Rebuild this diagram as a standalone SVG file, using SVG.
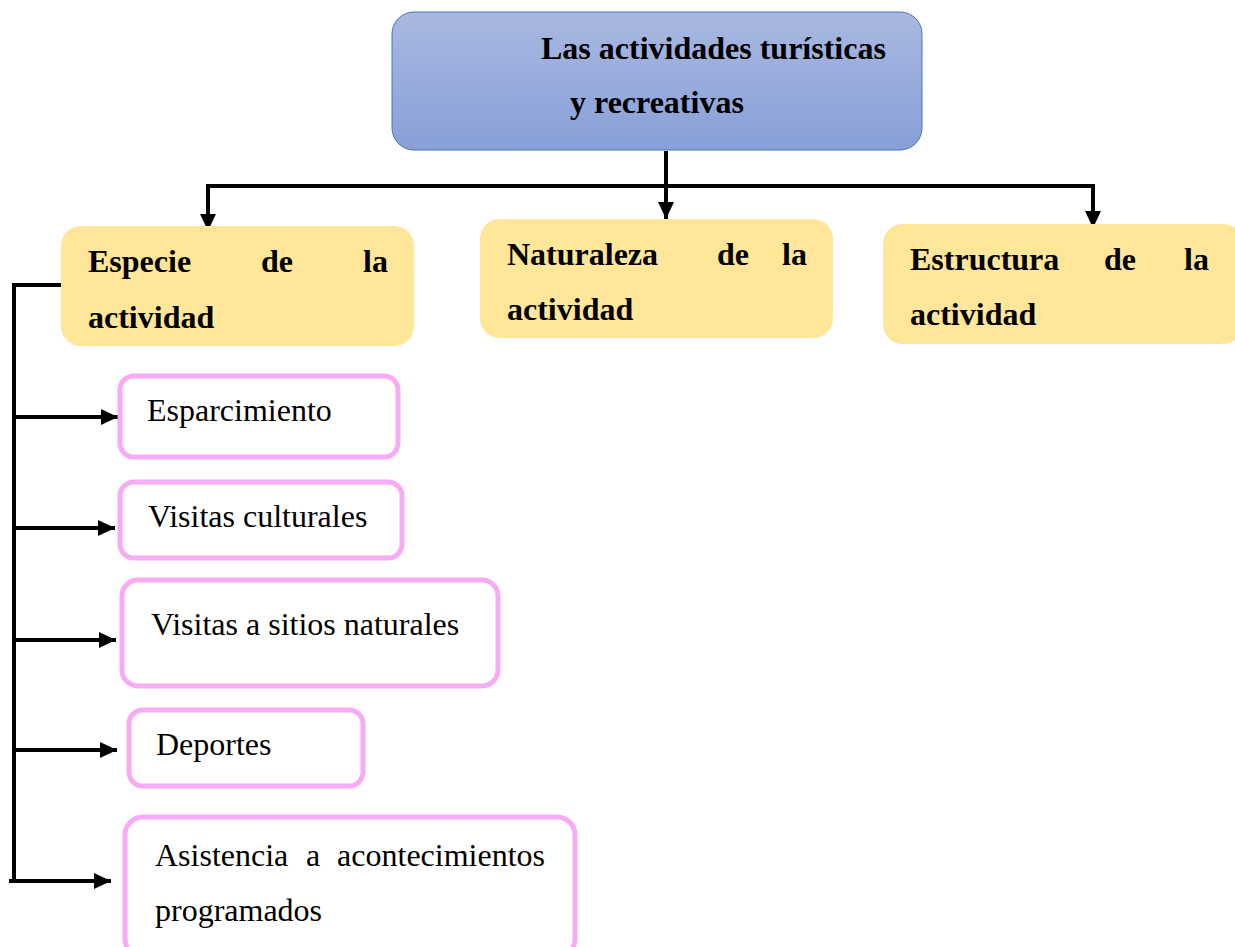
<svg xmlns="http://www.w3.org/2000/svg" width="1235" height="947" viewBox="0 0 1235 947">
<style>
.b{font-family:"Liberation Serif","Times New Roman",serif;font-size:32px;font-weight:bold;fill:#000}
.r{font-family:"Liberation Serif","Times New Roman",serif;font-size:32px;fill:#000}
.y{fill:#FFE699}
.p{fill:#fff;stroke:#F9AAF5;stroke-width:5}
.c{stroke:#000;stroke-width:4;fill:none}
</style>
<defs>
<linearGradient id="g" x1="0" y1="0" x2="0" y2="1">
<stop offset="0" stop-color="#A9B8E1"/>
<stop offset="1" stop-color="#88A0D7"/>
</linearGradient>
<marker id="a" viewBox="0 0 17 16" refX="17" refY="8" markerWidth="17" markerHeight="16" markerUnits="userSpaceOnUse" orient="auto">
<path d="M0,0L17,8L0,16Z" fill="#000"/>
</marker>
</defs>
<g id="connectors">
<path class="c" d="M666,151V219" marker-end="url(#a)"/>
<path class="c" d="M208,186H1093V228" marker-end="url(#a)"/>
<path class="c" d="M208,184V231" marker-end="url(#a)"/>
<path class="c" d="M61,285H14V882"/>
<path class="c" d="M14,417H118" marker-end="url(#a)"/>
<path class="c" d="M14,528H115" marker-end="url(#a)"/>
<path class="c" d="M14,640H116" marker-end="url(#a)"/>
<path class="c" d="M14,750H117" marker-end="url(#a)"/>
<path class="c" d="M9,881H111" marker-end="url(#a)"/>
</g>
<g id="root">
<rect x="392" y="12" width="530" height="138" rx="22" fill="url(#g)" stroke="#4472C4" stroke-width="1"/>
<text class="b" x="541" y="59">Las actividades turísticas</text>
<text class="b" x="570" y="113">y recreativas</text>
</g>
<g id="especie">
<rect class="y" x="61" y="226" width="353" height="120" rx="20"/>
<text class="b" x="88" y="272">Especie</text>
<text class="b" x="277" y="272" text-anchor="middle">de</text>
<text class="b" x="388" y="272" text-anchor="end">la</text>
<text class="b" x="88" y="328">actividad</text>
</g>
<g id="naturaleza">
<rect class="y" x="480" y="219" width="353" height="119" rx="20"/>
<text class="b" x="507" y="265">Naturaleza</text>
<text class="b" x="733" y="265" text-anchor="middle">de</text>
<text class="b" x="807" y="265" text-anchor="end">la</text>
<text class="b" x="507" y="320">actividad</text>
</g>
<g id="estructura">
<rect class="y" x="883" y="224" width="360" height="120" rx="20"/>
<text class="b" x="910" y="270">Estructura</text>
<text class="b" x="1120" y="270" text-anchor="middle">de</text>
<text class="b" x="1209" y="270" text-anchor="end">la</text>
<text class="b" x="910" y="325">actividad</text>
</g>
<g id="esparcimiento">
<rect class="p" x="120" y="376" width="278" height="81" rx="14"/>
<text class="r" x="147" y="421">Esparcimiento</text>
</g>
<g id="culturales">
<rect class="p" x="120" y="482" width="282" height="76" rx="14"/>
<text class="r" x="148" y="527">Visitas culturales</text>
</g>
<g id="naturales">
<rect class="p" x="122" y="580" width="376" height="106" rx="16"/>
<text class="r" x="151" y="635">Visitas a sitios naturales</text>
</g>
<g id="deportes">
<rect class="p" x="129" y="710" width="234" height="76" rx="14"/>
<text class="r" x="156" y="755">Deportes</text>
</g>
<g id="asistencia">
<rect class="p" x="125" y="817" width="450" height="140" rx="18"/>
<text class="r" x="155" y="866">Asistencia</text>
<text class="r" x="306" y="866">a</text>
<text class="r" x="545" y="866" text-anchor="end">acontecimientos</text>
<text class="r" x="155" y="921">programados</text>
</g>
</svg>
